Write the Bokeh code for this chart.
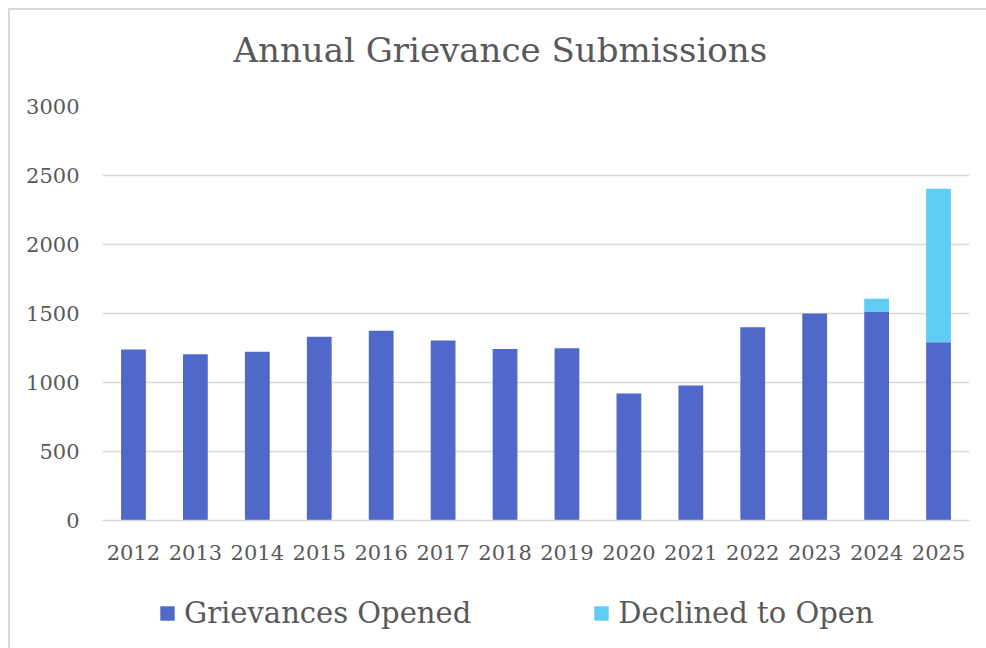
from bokeh.plotting import figure
from bokeh.layouts import column
from bokeh.models import ColumnDataSource, Legend, LegendItem, FactorRange, SingleIntervalTicker, Title
from bokeh.embed import file_html
from bokeh.resources import INLINE

years = ["2012", "2013", "2014", "2015", "2016", "2017", "2018",
         "2019", "2020", "2021", "2022", "2023", "2024", "2025"]
opened = [1239, 1205, 1222, 1331, 1375, 1304, 1243, 1248, 920, 978, 1401, 1500, 1510, 1292]
declined = [0, 0, 0, 0, 0, 0, 0, 0, 0, 0, 0, 0, 97, 1112]
series = ["opened", "declined"]
series_labels = ["Grievances Opened", "Declined to Open"]
colors = ["#4F68C9", "#5ECCF3"]
title_text = "Annual Grievance Submissions"

FONT = "DejaVu Serif"
TXT = "#595959"
GRID = "#D9D9D9"

src = ColumnDataSource(dict(year=years, opened=opened, declined=declined))

p = figure(width=976, height=555, x_range=FactorRange(*years, range_padding=0),
           y_range=(0, 3000), output_backend="svg", toolbar_location=None,
           min_border_left=92, min_border_right=17, min_border_top=96, min_border_bottom=45)

rs = p.vbar_stack(series, x="year", width=0.4, source=src, color=colors, line_color=None)

p.title.text = title_text
p.title.text_font = FONT
p.title.text_font_size = "34px"
p.title.text_font_style = "normal"
p.title.text_color = TXT
p.title.align = "left"
p.title.offset = 131
p.title.standoff = 0

spacer = Title(text=" ", text_font_size="10px", standoff=24)
p.add_layout(spacer, "above")

p.outline_line_color = None
p.xgrid.grid_line_color = None
p.ygrid.grid_line_color = GRID
p.ygrid.grid_line_width = 1.5
p.yaxis.ticker = SingleIntervalTicker(interval=500)
p.yaxis.axis_line_color = None
p.yaxis.major_tick_line_color = None
p.yaxis.minor_tick_line_color = None
p.yaxis.major_label_text_font = FONT
p.yaxis.major_label_text_font_size = "21px"
p.yaxis.major_label_text_color = TXT
p.yaxis.major_label_standoff = 17

p.xaxis.axis_line_color = GRID
p.xaxis.axis_line_width = 1.5
p.xaxis.major_tick_line_color = None
p.xaxis.minor_tick_line_color = None
p.xaxis.major_label_text_font = FONT
p.xaxis.major_label_text_font_size = "21px"
p.xaxis.major_label_text_color = TXT
p.xaxis.major_label_standoff = 18

# legend strip: key swatches are placeholder renderers (NaN row, draw nothing)
lg = figure(width=976, height=83, x_range=(0, 1), y_range=(0, 1), output_backend="svg",
            toolbar_location=None, min_border=0, x_axis_location=None, y_axis_location=None)
lg.grid.grid_line_color = None
lg.outline_line_color = None
key_src = ColumnDataSource(dict(x=[float("nan")], top=[float("nan")]))
key_renderers = [lg.vbar(x="x", top="top", width=0.4, source=key_src, color=c, line_color=None)
                 for c in colors]
legend = Legend(items=[LegendItem(label=series_labels[i], renderers=[key_renderers[i]]) for i in range(2)],
                orientation="horizontal", location=(56, 18))
legend.glyph_width = 18
legend.glyph_height = 18
legend.label_standoff = 8
legend.spacing = 121
legend.padding = 0
legend.margin = 0
legend.border_line_color = None
legend.background_fill_alpha = 0
legend.label_text_font = FONT
legend.label_text_font_size = "29px"
legend.label_text_color = TXT
lg.add_layout(legend, "center")

layout = column(p, lg, spacing=0)
layout.styles = {"border-top": "2px solid #D9D9D9", "border-left": "2px solid #D9D9D9",
                 "margin-top": "8px", "margin-left": "8px"}

open("out.html", "w").write(file_html(layout, INLINE))
